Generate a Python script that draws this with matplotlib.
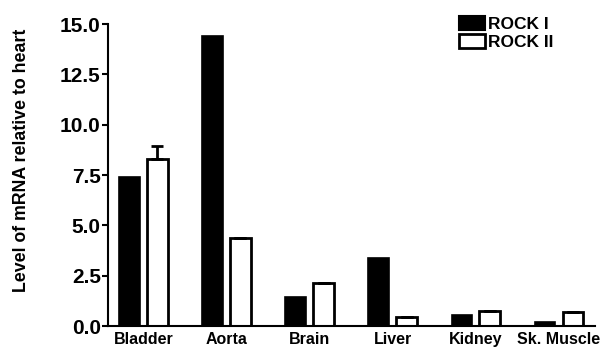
import numpy as np
import matplotlib
matplotlib.use('Agg')
import matplotlib.pyplot as plt
from matplotlib.patches import Patch

plt.rcParams['font.family'] = ['Liberation Sans', 'DejaVu Sans']
plt.rcParams['font.weight'] = 'bold'

tissues = ['Bladder', 'Aorta', 'Brain', 'Liver', 'Kidney', 'Sk. Muscle']
rock1 = [7.4, 14.4, 1.45, 3.4, 0.55, 0.2]
rock2 = [8.3, 4.35, 2.15, 0.45, 0.75, 0.7]
rock2_err = [0.65, 0, 0, 0, 0, 0]

fig = plt.figure(figsize=(6.02, 3.48), dpi=100)
ax = fig.add_axes([0.179, 0.063, 0.809, 0.868])

x = np.arange(len(tissues))
w = 0.25
off = 0.168
ax.bar(x - off, rock1, w, color='black', edgecolor='black', linewidth=1.2)
ax.bar(x + off, rock2, w, color='white', edgecolor='black', linewidth=2)
ax.errorbar(x + off, rock2, yerr=[np.zeros(len(x)), rock2_err], fmt='none',
            ecolor='black', elinewidth=2, capsize=4, capthick=2)

ax.set_xlim(-0.427, 5.43)
ax.set_ylim(0, 15)
ax.set_yticks([0, 2.5, 5, 7.5, 10, 12.5, 15])
ax.set_yticklabels(['0.0', '2.5', '5.0', '7.5', '10.0', '12.5', '15.0'],
                   fontsize=15, fontweight='bold')
ax.set_xticks(x)
ax.set_xticklabels(tissues, fontsize=11.5, fontweight='bold')
ax.tick_params(axis='x', length=0, pad=4)
ax.tick_params(axis='y', length=4, width=1.5, pad=1)

for s in ['top', 'right']:
    ax.spines[s].set_visible(False)
ax.spines['left'].set_linewidth(1.5)
ax.spines['bottom'].set_linewidth(1.5)

ax.set_ylabel('Level of mRNA relative to heart', fontsize=12.8, fontweight='bold')
ax.yaxis.set_label_coords(-0.16, 0.549)

handles = [Patch(facecolor='black', edgecolor='black', linewidth=1.5),
           Patch(facecolor='white', edgecolor='black', linewidth=2)]
ax.legend(handles, ['ROCK I', 'ROCK II'], loc='upper left', bbox_to_anchor=(0.69, 1.078),
          frameon=False, prop={'size': 12.5, 'weight': 'bold'},
          handlelength=1.5, handleheight=0.85, handletextpad=0.15, labelspacing=0.1)

fig.savefig('out.png', dpi=100)
